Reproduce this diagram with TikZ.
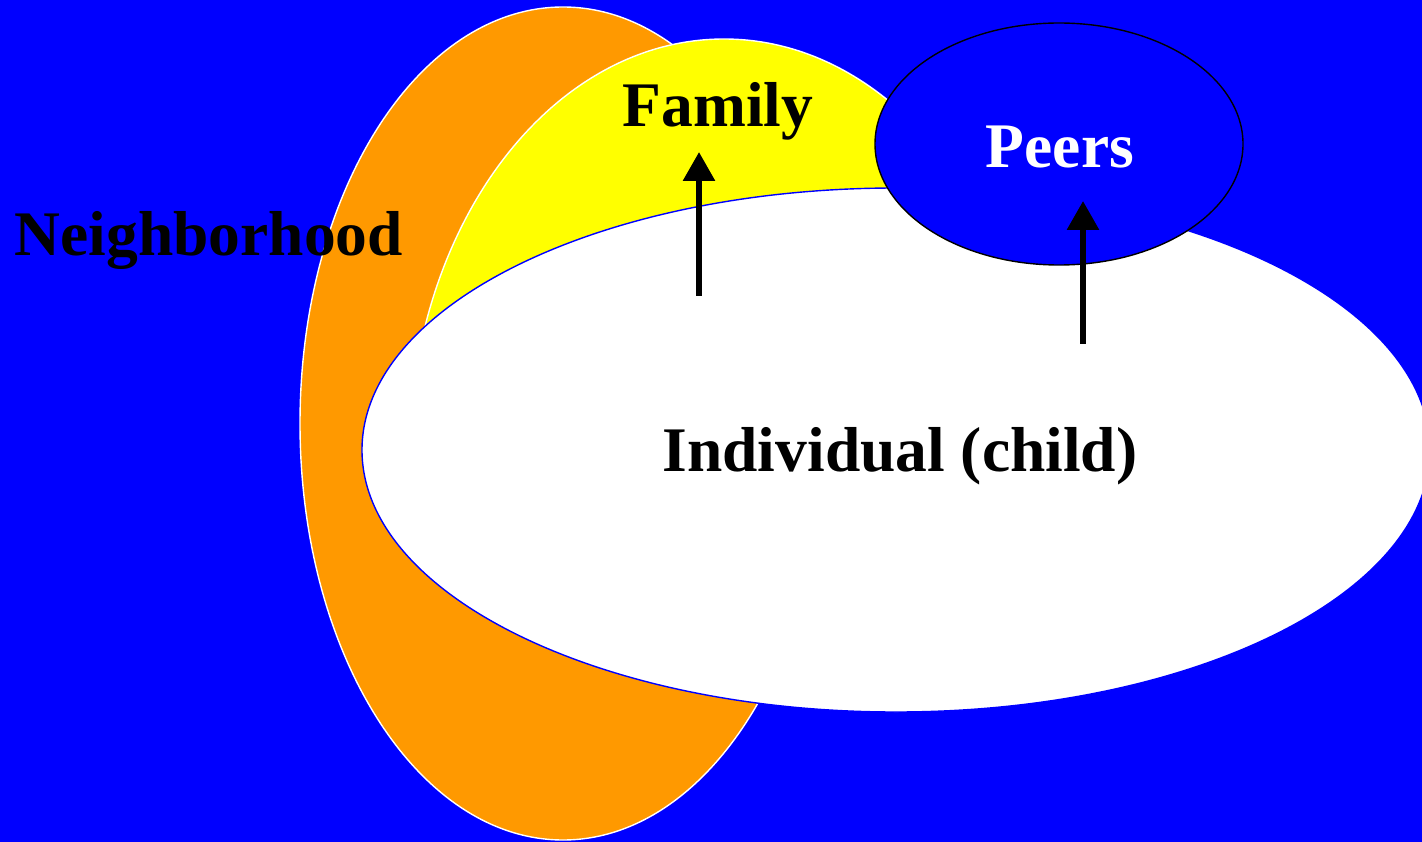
\documentclass[tikz,border=0pt]{standalone}
\usepackage{fontspec}
\setmainfont{Liberation Serif}
\usetikzlibrary{shapes.geometric,arrows.meta}
\definecolor{bgblue}{HTML}{0000FF}
\definecolor{nborange}{HTML}{FF9900}
\definecolor{famyellow}{HTML}{FFFF00}
\tikzset{
  blob/.style={ellipse, inner sep=0pt, line width=1.4pt},
  lbl/.style={anchor=base, inner sep=0pt, font=\fontsize{63.5}{70}\selectfont\bfseries},
  uparrow/.style={line width=6pt, -{Triangle[width=31pt,length=29pt]}}
}
\begin{document}
\begin{tikzpicture}[x=1pt,y=-1pt]
\fill[bgblue] (0,0) rectangle (1422,842);
\useasboundingbox (0,0) rectangle (1422,842);
\node[blob, draw=white, fill=nborange, minimum width=526pt, minimum height=833pt] (nbh) at (563,423.5) {};
\begin{scope}
\clip (0,0) rectangle (1422,450);
\node[blob, draw=white, fill=famyellow, minimum width=630pt, minimum height=840pt] (fam) at (724,459) {};
\end{scope}
\node[blob, draw=bgblue, fill=white, minimum width=1068pt, minimum height=524pt] (ind) at (896,450) {};
\node[blob, draw=black, fill=bgblue, minimum width=368pt, minimum height=242pt] (peers) at (1059,144) {};
\node[lbl, text=black] (nbhlbl) at (209,256) {Neighborhood};
\node[lbl, text=black] (famlbl) at (718,127) {Family};
\node[lbl, text=white] (peerslbl) at (1060,168) {Peers};
\node[lbl, text=black] (indlbl) at (900,471) {Individual (child)};
\coordinate (a1s) at (699,296);
\coordinate (a1e) at (699,152);
\coordinate (a2s) at (1083,344);
\coordinate (a2e) at (1083,201);
\draw[uparrow] (a1s) -- (a1e);
\draw[uparrow] (a2s) -- (a2e);
\end{tikzpicture}
\end{document}
